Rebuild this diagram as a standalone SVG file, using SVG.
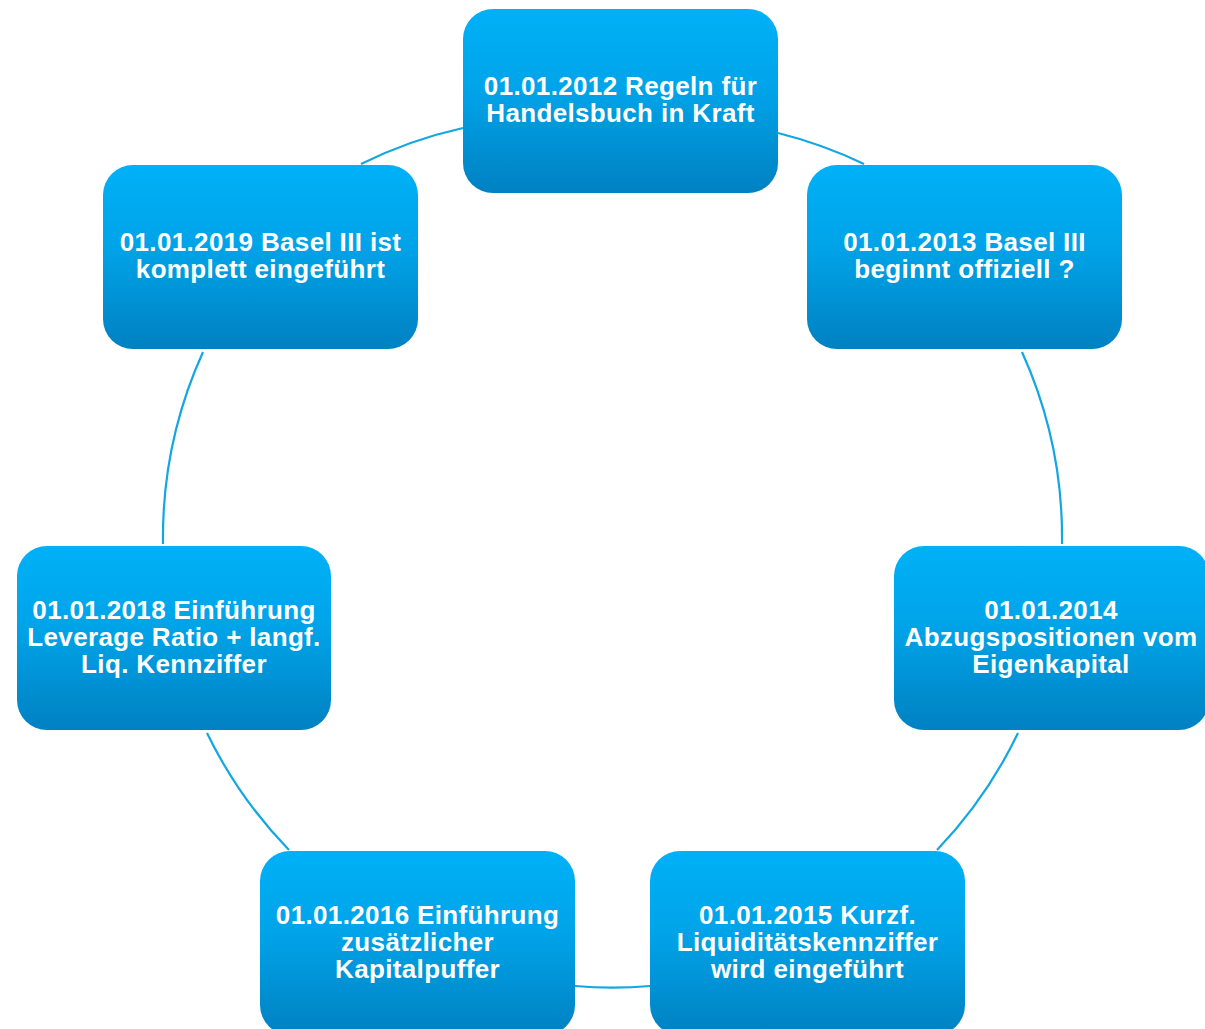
<svg xmlns="http://www.w3.org/2000/svg" width="1205" height="1029" viewBox="0 0 1205 1029">
<defs>
<linearGradient id="g" x1="0" y1="0" x2="0" y2="1">
<stop offset="0" stop-color="#00b1f7"/>
<stop offset="0.45" stop-color="#00a3e8"/>
<stop offset="1" stop-color="#0081c2"/>
</linearGradient>
<style>
.n rect{fill:url(#g);}
.n text{font-family:"Liberation Sans",Arial,sans-serif;font-weight:bold;font-size:26px;letter-spacing:0.35px;fill:#fff;text-anchor:middle;}
.c path{fill:none;stroke:#12a6e2;stroke-width:2.2;}
</style>
</defs>
<rect width="1205" height="1029" fill="#fff"/>
<g class="c" id="connectors">
<path d="M778,133 A450,450 0 0 1 864,164"/>
<path d="M1022,352 A450,450 0 0 1 1062,544"/>
<path d="M1018,733 A450,450 0 0 1 937,850"/>
<path d="M650,986 A450,450 0 0 1 575,986"/>
<path d="M289,850 A450,450 0 0 1 207,733"/>
<path d="M163,544 A450,450 0 0 1 203,352"/>
<path d="M361,164 A450,450 0 0 1 463,128"/>
</g>
<g class="n" id="node1">
<rect x="463" y="9" width="315" height="184" rx="30"/>
<text x="620.5"><tspan y="95">01.01.2012 Regeln für</tspan><tspan x="620.5" y="122">Handelsbuch in Kraft</tspan></text>
</g>
<g class="n" id="node2">
<rect x="807" y="165" width="315" height="184" rx="30"/>
<text x="964.5"><tspan y="251">01.01.2013 Basel III</tspan><tspan x="964.5" y="278">beginnt offiziell ?</tspan></text>
</g>
<g class="n" id="node3">
<rect x="894" y="546" width="315" height="184" rx="30"/>
<text x="1051"><tspan y="618.5">01.01.2014</tspan><tspan x="1051" y="645.5">Abzugspositionen vom</tspan><tspan x="1051" y="672.5">Eigenkapital</tspan></text>
</g>
<g class="n" id="node4">
<rect x="650" y="851" width="315" height="184" rx="30"/>
<text x="807.5"><tspan y="923.5">01.01.2015 Kurzf.</tspan><tspan x="807.5" y="950.5">Liquiditätskennziffer</tspan><tspan x="807.5" y="977.5">wird eingeführt</tspan></text>
</g>
<g class="n" id="node5">
<rect x="260" y="851" width="315" height="184" rx="30"/>
<text x="417.5"><tspan y="923.5">01.01.2016 Einführung</tspan><tspan x="417.5" y="950.5">zusätzlicher</tspan><tspan x="417.5" y="977.5">Kapitalpuffer</tspan></text>
</g>
<g class="n" id="node6">
<rect x="17" y="546" width="314" height="184" rx="30"/>
<text x="174"><tspan y="618.5">01.01.2018 Einführung</tspan><tspan x="174" y="645.5">Leverage Ratio + langf.</tspan><tspan x="174" y="672.5">Liq. Kennziffer</tspan></text>
</g>
<g class="n" id="node7">
<rect x="103" y="165" width="315" height="184" rx="30"/>
<text x="260.5"><tspan y="251">01.01.2019 Basel III ist</tspan><tspan x="260.5" y="278">komplett eingeführt</tspan></text>
</g>
</svg>
